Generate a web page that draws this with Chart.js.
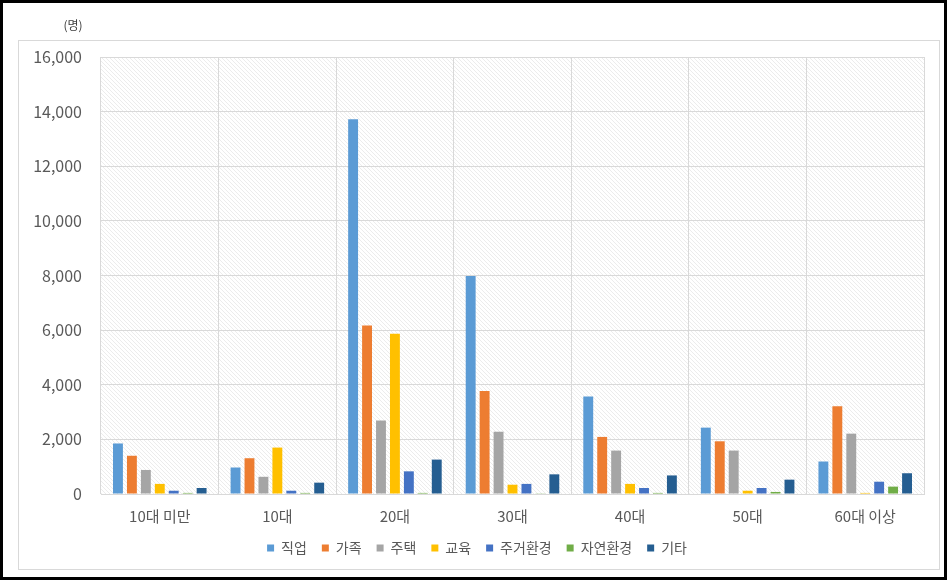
<!DOCTYPE html>
<html>
<head>
<meta charset="utf-8">
<script src="https://cdn.jsdelivr.net/npm/chart.js@4/dist/chart.umd.min.js"></script>
<style>
  html, body { margin: 0; padding: 0; background: #fff; }
  #wrap { position: relative; width: 948px; height: 580px; }
</style>
</head>
<body>
<div id="wrap"><canvas id="chart" width="948" height="580"></canvas></div>
<script>
/* data */
let ageGroups = ['10대 미만', '10대', '20대', '30대', '40대', '50대', '60대 이상']
let reasons = ['직업', '가족', '주택', '교육', '주거환경', '자연환경', '기타']

let job      = [1850, 970, 13720, 7980, 3570, 2430, 1190]
let family   = [1400, 1310, 6170, 3770, 2090, 1930, 3210]
let housing  = [880, 630, 2690, 2280, 1590, 1590, 2210]
let edu      = [370, 1700, 5870, 340, 370, 120, 40]
let living   = [120, 120, 830, 370, 220, 220, 450]
let nature   = [40, 40, 40, 25, 40, 75, 270]
let etc      = [220, 415, 1260, 720, 680, 525, 760]

let yTicks = [0, 2000, 4000, 6000, 8000, 10000, 12000, 14000, 16000]

let seriesValues = [job, family, housing, edu, living, nature, etc]
let seriesColors = ['#5B9BD5', '#ED7D31', '#A5A5A5', '#FFC000', '#4472C4', '#70AD47', '#255E91']

let textColor = '#595959'
let font = '"Noto Sans CJK KR", "Noto Sans", sans-serif'

// hatched plot background like the excel original
function makeHatch() {
    let p = document.createElement('canvas')
    p.width = 4
    p.height = 4
    let c = p.getContext('2d')
    c.fillStyle = '#ffffff'
    c.fillRect(0, 0, 4, 4)
    c.strokeStyle = '#ececec'
    c.lineWidth = 1
    c.beginPath()
    c.moveTo(0, 0)
    c.lineTo(4, 4)
    c.stroke()
    return p
}

let framePlugin = {
    id: 'frame',
    beforeDraw(chart) {
        let ctx = chart.ctx
        let a = chart.chartArea
        ctx.save()
        ctx.fillStyle = '#fff'
        ctx.fillRect(0, 0, chart.width, chart.height)
        // outer black frame
        ctx.strokeStyle = '#000'
        ctx.lineWidth = 3
        ctx.strokeRect(1.5, 1.5, chart.width - 4, chart.height - 3)
        // light chart box
        ctx.strokeStyle = '#d9d9d9'
        ctx.lineWidth = 1
        ctx.strokeRect(18.5, 40.5, 921, 529)
        // hatch
        ctx.fillStyle = ctx.createPattern(makeHatch(), 'repeat')
        ctx.fillRect(a.left, a.top, a.right - a.left, a.bottom - a.top)
        // unit label
        ctx.fillStyle = '#404040'
        ctx.font = '12px ' + font
        ctx.textAlign = 'center'
        ctx.textBaseline = 'middle'
        ctx.fillText('(명)', 73, 25)
        ctx.restore()
    }
}

let datasets = reasons.map(function(name, i) {
    return {
        label: name,
        data: seriesValues[i],
        backgroundColor: seriesColors[i],
        borderWidth: 0,
        categoryPercentage: 0.83,
        barPercentage: 0.71
    }
})

let ctx = document.querySelector('#chart').getContext('2d')

let chart = new Chart(ctx, {
    type: 'bar',
    data: { labels: ageGroups, datasets: datasets },
    plugins: [framePlugin],
    options: {
        responsive: false,
        animation: false,
        layout: { padding: { left: 30, right: 24, top: 57, bottom: 15 } },
        plugins: {
            tooltip: { enabled: false },
            legend: {
                position: 'bottom',
                labels: {
                    color: textColor,
                    font: { family: font, size: 14 },
                    boxWidth: 7,
                    boxHeight: 7,
                    padding: 15
                }
            }
        },
        scales: {
            x: {
                afterFit: function(s) { s.height = 32 },
                grid: { color: '#d9d9d9', drawTicks: false, offset: true },
                border: { color: '#d9d9d9' },
                ticks: { color: textColor, font: { family: font, size: 15 }, padding: 13 }
            },
            y: {
                min: 0,
                max: 16000,
                afterFit: function(s) { s.width = 71 },
                afterBuildTicks: function(s) { s.ticks = yTicks.map(v => ({ value: v })) },
                grid: { color: '#d9d9d9', drawTicks: false },
                border: { display: false },
                ticks: {
                    color: textColor,
                    font: { family: font, size: 16 },
                    padding: 19,
                    callback: v => v.toLocaleString('en-US')
                }
            }
        }
    }
})
</script>
</body>
</html>
